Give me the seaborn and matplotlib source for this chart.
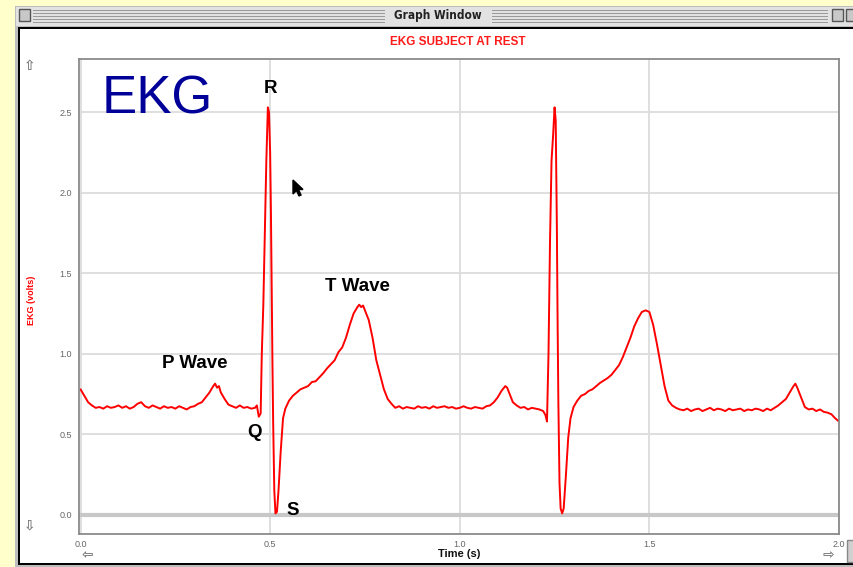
import matplotlib
matplotlib.use('Agg')
import matplotlib.pyplot as plt
from matplotlib.patches import Rectangle, Polygon
import seaborn as sns
import pandas as pd

# EKG trace (time in s, EKG in volts)
time_s = [
    0.00, 0.01, 0.02, 0.03, 0.04, 0.05, 0.06, 0.07, 0.08, 0.09,
    0.10, 0.11, 0.12, 0.13, 0.14, 0.15, 0.16, 0.17, 0.18, 0.19,
    0.20, 0.21, 0.22, 0.23, 0.24, 0.25, 0.26, 0.27, 0.28, 0.29,
    0.30, 0.31, 0.32, 0.33, 0.34, 0.35, 0.355, 0.36, 0.365, 0.37,
    0.38, 0.39, 0.40, 0.41, 0.42, 0.43, 0.44, 0.45, 0.46, 0.465,
    0.47, 0.475, 0.478, 0.482, 0.486, 0.490, 0.494, 0.497, 0.500, 0.502,
    0.504, 0.506, 0.508, 0.511, 0.514, 0.518, 0.522, 0.528, 0.534, 0.540,
    0.55, 0.56, 0.57, 0.58, 0.59, 0.60, 0.61, 0.62, 0.63, 0.64,
    0.65, 0.66, 0.67, 0.68, 0.69, 0.70, 0.71, 0.72, 0.73, 0.735,
    0.74, 0.745, 0.75, 0.76, 0.77, 0.78, 0.79, 0.80, 0.81, 0.82,
    0.83, 0.84, 0.85, 0.86, 0.87, 0.88, 0.89, 0.90, 0.91, 0.92,
    0.93, 0.94, 0.95, 0.96, 0.97, 0.98, 0.99, 1.00, 1.01, 1.02,
    1.03, 1.04, 1.05, 1.06, 1.07, 1.08, 1.09, 1.10, 1.11, 1.12,
    1.125, 1.13, 1.14, 1.15, 1.16, 1.17, 1.18, 1.19, 1.20, 1.21,
    1.22, 1.226, 1.23, 1.234, 1.238, 1.242, 1.246, 1.250, 1.253, 1.256,
    1.258, 1.260, 1.263, 1.266, 1.270, 1.274, 1.280, 1.286, 1.292, 1.30,
    1.31, 1.32, 1.33, 1.34, 1.35, 1.36, 1.37, 1.38, 1.39, 1.40,
    1.41, 1.42, 1.43, 1.44, 1.45, 1.46, 1.47, 1.48, 1.49, 1.50,
    1.51, 1.52, 1.53, 1.54, 1.55, 1.56, 1.57, 1.58, 1.59, 1.60,
    1.61, 1.62, 1.63, 1.64, 1.65, 1.66, 1.67, 1.68, 1.69, 1.70,
    1.71, 1.72, 1.73, 1.74, 1.75, 1.76, 1.77, 1.78, 1.79, 1.80,
    1.81, 1.82, 1.83, 1.84, 1.85, 1.86, 1.87, 1.88, 1.885, 1.89,
    1.90, 1.91, 1.92, 1.93, 1.94, 1.95, 1.96, 1.97, 1.98, 1.99,
    2.00,
]
volts = [
    0.78, 0.74, 0.70, 0.68, 0.665, 0.67, 0.66, 0.675, 0.665, 0.67,
    0.68, 0.665, 0.675, 0.66, 0.67, 0.69, 0.70, 0.675, 0.665, 0.68,
    0.67, 0.66, 0.675, 0.665, 0.67, 0.66, 0.675, 0.665, 0.655, 0.67,
    0.675, 0.69, 0.70, 0.73, 0.76, 0.80, 0.815, 0.79, 0.80, 0.76,
    0.72, 0.685, 0.675, 0.665, 0.68, 0.665, 0.67, 0.66, 0.665, 0.68,
    0.61, 0.63, 1.00, 1.30, 1.75, 2.20, 2.53, 2.50, 2.25, 1.90,
    1.40, 0.96, 0.57, 0.15, 0.01, 0.02, 0.15, 0.40, 0.60, 0.66,
    0.71, 0.74, 0.76, 0.78, 0.79, 0.80, 0.825, 0.83, 0.855, 0.88,
    0.91, 0.935, 0.96, 1.01, 1.04, 1.10, 1.18, 1.25, 1.29, 1.305,
    1.29, 1.30, 1.27, 1.21, 1.10, 0.96, 0.87, 0.78, 0.72, 0.69,
    0.665, 0.675, 0.66, 0.67, 0.665, 0.66, 0.675, 0.665, 0.67, 0.66,
    0.675, 0.665, 0.67, 0.675, 0.665, 0.67, 0.66, 0.665, 0.675, 0.665,
    0.66, 0.67, 0.665, 0.66, 0.675, 0.68, 0.70, 0.73, 0.77, 0.80,
    0.79, 0.76, 0.70, 0.68, 0.665, 0.67, 0.655, 0.665, 0.66, 0.655,
    0.645, 0.62, 0.58, 1.00, 1.70, 2.20, 2.35, 2.53, 2.45, 1.80,
    1.20, 0.70, 0.20, 0.04, 0.01, 0.04, 0.25, 0.48, 0.60, 0.67,
    0.71, 0.74, 0.75, 0.77, 0.78, 0.80, 0.82, 0.835, 0.85, 0.87,
    0.90, 0.93, 0.98, 1.04, 1.10, 1.17, 1.22, 1.26, 1.27, 1.26,
    1.18, 1.06, 0.93, 0.80, 0.71, 0.68, 0.665, 0.655, 0.65, 0.66,
    0.645, 0.655, 0.66, 0.645, 0.655, 0.665, 0.65, 0.66, 0.655, 0.645,
    0.66, 0.65, 0.655, 0.66, 0.645, 0.655, 0.65, 0.66, 0.655, 0.645,
    0.66, 0.65, 0.665, 0.68, 0.70, 0.72, 0.76, 0.80, 0.815, 0.79,
    0.73, 0.67, 0.655, 0.66, 0.645, 0.655, 0.64, 0.635, 0.625, 0.60,
    0.58,
]

x_ticks = [0.0, 0.5, 1.0, 1.5, 2.0]
y_ticks = [0.0, 0.5, 1.0, 1.5, 2.0, 2.5]

# wave labels: (text, time, volts)
wave_labels = [
    ("R", 0.50, 2.65),
    ("P Wave", 0.30, 0.94),
    ("T Wave", 0.73, 1.42),
    ("Q", 0.46, 0.51),
    ("S", 0.56, 0.03),
]

df = pd.DataFrame({"Time (s)": time_s, "EKG (volts)": volts})

sns.set_style("white")
plt.rcParams['font.family'] = ['Liberation Sans', 'DejaVu Sans']

W, H = 854, 567
fig = plt.figure(figsize=(W / 100, H / 100), dpi=100, facecolor='#ffffcc')


def fr(x, y):
    # screen pixel (top-left origin) -> figure fraction
    return x / W, 1 - y / H


def box(x0, y0, x1, y1, **kw):
    fig.patches.append(Rectangle(fr(x0, y1), (x1 - x0) / W, (y1 - y0) / H,
                                 transform=fig.transFigure, zorder=-5, **kw))


# window frame
box(15, 6, W, H, facecolor='#bdbdbd', edgecolor='none')
box(18, 27, W, 565, facecolor='black', edgecolor='none')
box(20, 29, W, 563, facecolor='white', edgecolor='none')
# title bar stripes
box(16, 7, W, 26, facecolor='#e2e2e2', edgecolor='none')
for yy in [10, 13, 16, 19, 22]:
    box(33, yy, 385, yy + 1.2, facecolor='#9a9a9a', edgecolor='none')
    box(492, yy, 828, yy + 1.2, facecolor='#9a9a9a', edgecolor='none')
box(19, 9, 30, 21, facecolor='#c8c8c8', edgecolor='#555555', linewidth=1)
box(832, 9, 843, 21, facecolor='#c8c8c8', edgecolor='#555555', linewidth=1)
box(846, 9, 856, 21, facecolor='#c8c8c8', edgecolor='#555555', linewidth=1)
box(847, 540, 856, 562, facecolor='#d0d0d0', edgecolor='#888888', linewidth=1)
fig.text(*fr(438, 15), "Graph Window", ha='center', va='center', fontsize=8.5,
         fontweight='bold', color='#222222', family=['DejaVu Sans'], stretch='condensed')

# scroll arrows
for (ax_, ay_, ch) in [(30, 66, "\u21e7"), (30, 525, "\u21e9"), (87, 555, "\u21e6"), (828, 555, "\u21e8")]:
    fig.text(*fr(ax_, ay_), ch, ha='center', va='center', fontsize=10,
             color='#808080', family=['DejaVu Sans'], fontweight='bold')

ax = fig.add_axes([79 / W, 1 - 534 / H, 760 / W, 475 / H])
ax.set_zorder(1)
sns.lineplot(data=df, x="Time (s)", y="EKG (volts)", ax=ax, color='#ff0000',
             linewidth=1.4, estimator=None, sort=False)

ax.set_xlim(-0.004, 2.0)
ax.set_ylim(-0.118, 2.83)
ax.set_xticks(x_ticks)
ax.set_yticks(y_ticks)
ax.set_xticklabels([f"{t:.1f}" for t in x_ticks])
ax.set_yticklabels([f"{t:.1f}" for t in y_ticks])
ax.grid(True, color='#dcdcdc', linewidth=1.3)
ax.axhline(0, color='#c8c8c8', linewidth=3, zorder=1)
ax.set_axisbelow(True)
for s in ax.spines.values():
    s.set_color('#8a8a8a')
    s.set_linewidth(1.3)
ax.tick_params(axis='both', direction='in', length=5, width=1.2, color='#333333',
               labelsize=6.5, labelcolor='#666666')
ax.tick_params(axis='y', pad=5)
ax.tick_params(axis='x', pad=4)

ax.set_xlabel("Time (s)", fontsize=8, fontweight='bold', color='#111111', labelpad=0)
ax.set_ylabel("")
fig.text(*fr(32, 300), "EKG (volts)", rotation=90, ha='center', va='center',
         fontsize=6.5, fontweight='bold', color='#ff0000')
fig.text(*fr(458, 42), "EKG SUBJECT AT REST", ha='center', va='center',
         fontsize=8.5, fontweight='bold', color='#ff1a1a')

ax.text(0.055, 2.58, "EKG", fontsize=38, color='#000099', ha='left', va='center')
for txt, tx, ty in wave_labels:
    ax.text(tx, ty, txt, fontsize=13.5, fontweight='bold', color='black',
            ha='center', va='center')

# mouse pointer
cx, cy = 293, 180
pts = [(0, 0), (0, 14), (3.5, 10.5), (6, 16), (8, 15), (5.5, 9.5), (10, 9.5)]
fig.patches.append(Polygon([fr(cx + a, cy + b) for a, b in pts], closed=True, zorder=10,
                           transform=fig.transFigure, facecolor='black', edgecolor='black'))

fig.savefig("out.png", dpi=100, facecolor=fig.get_facecolor())
